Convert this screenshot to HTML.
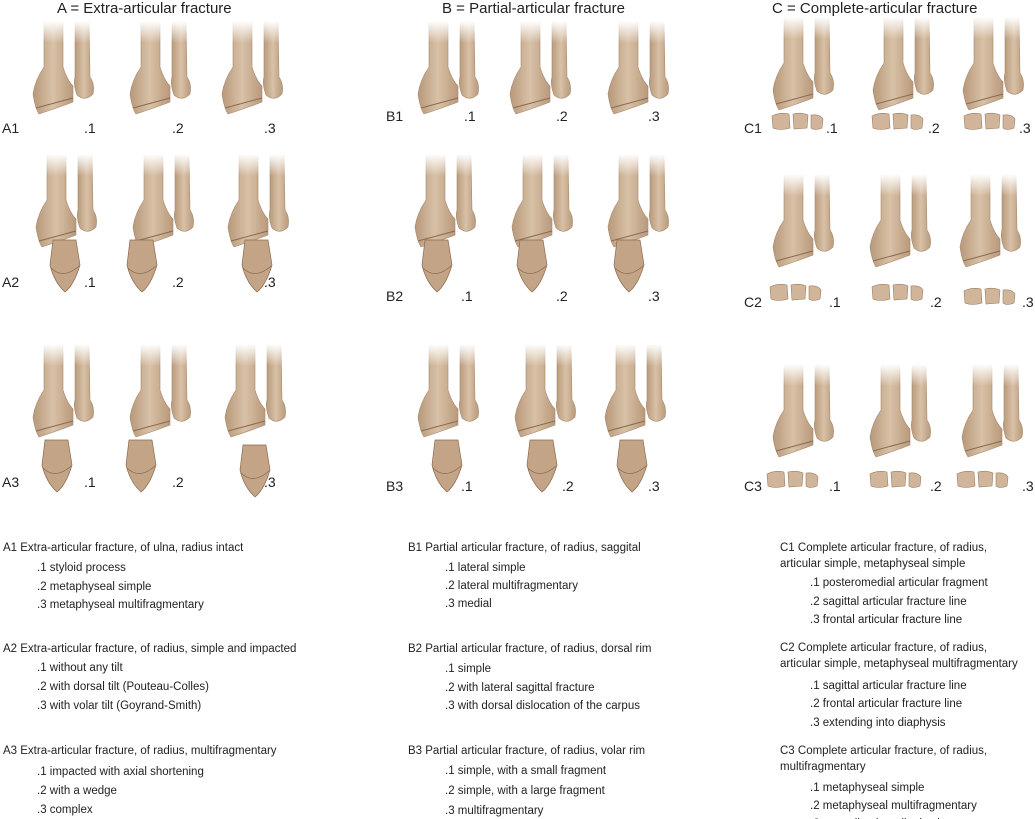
<!DOCTYPE html>
<html><head><style>
html,body{margin:0;padding:0;background:#fff;}
svg{display:block;font-family:"Liberation Sans",sans-serif;}
</style></head><body>
<svg width="1035" height="819" viewBox="0 0 1035 819">
<defs>
<linearGradient id="fd" x1="0" y1="0" x2="0" y2="1">
<stop offset="0" stop-color="#fff" stop-opacity="1"/>
<stop offset="1" stop-color="#fff" stop-opacity="0"/>
</linearGradient>
<linearGradient id="bc" x1="0" y1="0" x2="1" y2="0">
<stop offset="0" stop-color="#b8987a"/><stop offset="0.5" stop-color="#d8c1a6"/><stop offset="1" stop-color="#b9997b"/>
</linearGradient>
<g id="bone">
<path d="M11 0 L30 0 L30 45 Q34 58 40 64 L40 80 Q30 84 6 92 Q2 86 0 72 Q2 58 11 45 Z" fill="url(#bc)" stroke="#a68a6e" stroke-width="0.6"/>
<path d="M3 86 L40 76" stroke="#8a6a50" stroke-width="1" fill="none"/>
<path d="M42 0 L56 0 L57 55 Q62 62 60 72 Q52 80 44 73 Q40 62 42 55 Z" fill="url(#bc)" stroke="#a68a6e" stroke-width="0.6"/>
<rect x="-2" y="-1" width="66" height="22" fill="url(#fd)"/>
</g>
<g id="frag">
<path d="M5 0 L28 0 L32 25 Q26 45 17 52 Q6 42 2 25 Z" fill="#c3a487" stroke="#8a6a50" stroke-width="0.7"/>
<path d="M3 28 Q15 40 31 26" fill="none" stroke="#8a6a50" stroke-width="0.7"/>
</g>
<g id="carp">
<path d="M2 4 Q10 0 19 2 L20 16 Q10 19 3 16 Z M23 2 Q31 0 38 3 L37 16 L24 17 Z M41 3 Q50 2 53 7 L52 16 Q45 19 41 16 Z" fill="#d0b59a" stroke="#9c7c60" stroke-width="0.6"/>
</g>
</defs>

<g font-size="15" fill="#222">
<text x="57" y="13">A = Extra-articular fracture</text>
<text x="442" y="13">B = Partial-articular fracture</text>
<text x="772" y="13">C = Complete-articular fracture</text>
</g>

<use href="#bone" x="33" y="22"/><use href="#bone" x="130" y="22"/><use href="#bone" x="222" y="22"/>
<use href="#bone" x="36" y="155"/><use href="#bone" x="133" y="155"/><use href="#bone" x="228" y="155"/>
<use href="#frag" x="48" y="240"/><use href="#frag" x="125" y="240"/><use href="#frag" x="240" y="240"/>
<use href="#bone" x="33" y="345"/><use href="#bone" x="130" y="345"/><use href="#bone" x="225" y="345"/>
<use href="#frag" x="40" y="440"/><use href="#frag" x="124" y="440"/><use href="#frag" x="238" y="445"/>

<use href="#bone" x="418" y="22"/><use href="#bone" x="510" y="22"/><use href="#bone" x="608" y="22"/>
<use href="#bone" x="415" y="155"/><use href="#bone" x="512" y="155"/><use href="#bone" x="608" y="155"/>
<use href="#frag" x="420" y="240"/><use href="#frag" x="515" y="240"/><use href="#frag" x="612" y="240"/>
<use href="#bone" x="418" y="345"/><use href="#bone" x="515" y="345"/><use href="#bone" x="605" y="345"/>
<use href="#frag" x="430" y="440"/><use href="#frag" x="525" y="440"/><use href="#frag" x="615" y="440"/>

<use href="#bone" x="773" y="18"/><use href="#bone" x="873" y="18"/><use href="#bone" x="963" y="18"/>
<use href="#carp" x="770" y="112"/><use href="#carp" x="870" y="112"/><use href="#carp" x="962" y="112"/>
<use href="#bone" x="773" y="175"/><use href="#bone" x="870" y="175"/><use href="#bone" x="960" y="175"/>
<use href="#carp" x="768" y="283"/><use href="#carp" x="870" y="283"/><use href="#carp" x="962" y="287"/>
<use href="#bone" x="773" y="365"/><use href="#bone" x="870" y="365"/><use href="#bone" x="962" y="365"/>
<use href="#carp" x="765" y="470"/><use href="#carp" x="868" y="470"/><use href="#carp" x="955" y="470"/>

<g font-size="14" fill="#222">
<text x="2" y="133">A1</text><text x="84" y="133">.1</text><text x="172" y="133">.2</text><text x="264" y="133">.3</text>
<text x="2" y="287">A2</text><text x="84" y="287">.1</text><text x="172" y="287">.2</text><text x="264" y="287">.3</text>
<text x="2" y="487">A3</text><text x="84" y="487">.1</text><text x="172" y="487">.2</text><text x="264" y="487">.3</text>
<text x="386" y="121">B1</text><text x="464" y="121">.1</text><text x="556" y="121">.2</text><text x="648" y="121">.3</text>
<text x="386" y="301">B2</text><text x="461" y="301">.1</text><text x="556" y="301">.2</text><text x="648" y="301">.3</text>
<text x="386" y="491">B3</text><text x="461" y="491">.1</text><text x="562" y="491">.2</text><text x="648" y="491">.3</text>
<text x="744" y="133">C1</text><text x="826" y="133">.1</text><text x="928" y="133">.2</text><text x="1019" y="133">.3</text>
<text x="744" y="307">C2</text><text x="829" y="307">.1</text><text x="930" y="307">.2</text><text x="1022" y="307">.3</text>
<text x="744" y="491">C3</text><text x="829" y="491">.1</text><text x="930" y="491">.2</text><text x="1022" y="491">.3</text>
</g>

<g font-size="11.5" fill="#222">
<text x="3" y="551">A1 Extra-articular fracture, of ulna, radius intact</text>
<text x="37" y="571">.1 styloid process</text>
<text x="37" y="590">.2 metaphyseal simple</text>
<text x="37" y="608">.3 metaphyseal multifragmentary</text>
<text x="3" y="652">A2 Extra-articular fracture, of radius, simple and impacted</text>
<text x="37" y="671">.1 without any tilt</text>
<text x="37" y="690">.2 with dorsal tilt (Pouteau-Colles)</text>
<text x="37" y="709">.3 with volar tilt (Goyrand-Smith)</text>
<text x="3" y="754">A3 Extra-articular fracture, of radius, multifragmentary</text>
<text x="37" y="775">.1 impacted with axial shortening</text>
<text x="37" y="794">.2 with a wedge</text>
<text x="37" y="813">.3 complex</text>

<text x="408" y="551">B1 Partial articular fracture, of radius, saggital</text>
<text x="445" y="571">.1 lateral simple</text>
<text x="445" y="589">.2 lateral multifragmentary</text>
<text x="445" y="607">.3 medial</text>
<text x="408" y="652">B2 Partial articular fracture, of radius, dorsal rim</text>
<text x="445" y="672">.1 simple</text>
<text x="445" y="691">.2 with lateral sagittal fracture</text>
<text x="445" y="709">.3 with dorsal dislocation of the carpus</text>
<text x="408" y="754">B3 Partial articular fracture, of radius, volar rim</text>
<text x="445" y="774">.1 simple, with a small fragment</text>
<text x="445" y="794">.2 simple, with a large fragment</text>
<text x="445" y="814">.3 multifragmentary</text>

<text x="780" y="551">C1 Complete articular fracture, of radius,</text>
<text x="780" y="567">articular simple, metaphyseal simple</text>
<text x="810" y="586">.1 posteromedial articular fragment</text>
<text x="810" y="605">.2 sagittal articular fracture line</text>
<text x="810" y="623">.3 frontal articular fracture line</text>
<text x="780" y="651">C2 Complete articular fracture, of radius,</text>
<text x="780" y="667">articular simple, metaphyseal multifragmentary</text>
<text x="810" y="689">.1 sagittal articular fracture line</text>
<text x="810" y="707">.2 frontal articular fracture line</text>
<text x="810" y="726">.3 extending into diaphysis</text>
<text x="780" y="754">C3 Complete articular fracture, of radius,</text>
<text x="780" y="770">multifragmentary</text>
<text x="810" y="791">.1 metaphyseal simple</text>
<text x="810" y="809">.2 metaphyseal multifragmentary</text>
<text x="810" y="827">.3 extending into diaphysis</text>
</g>
</svg>
</body></html>
